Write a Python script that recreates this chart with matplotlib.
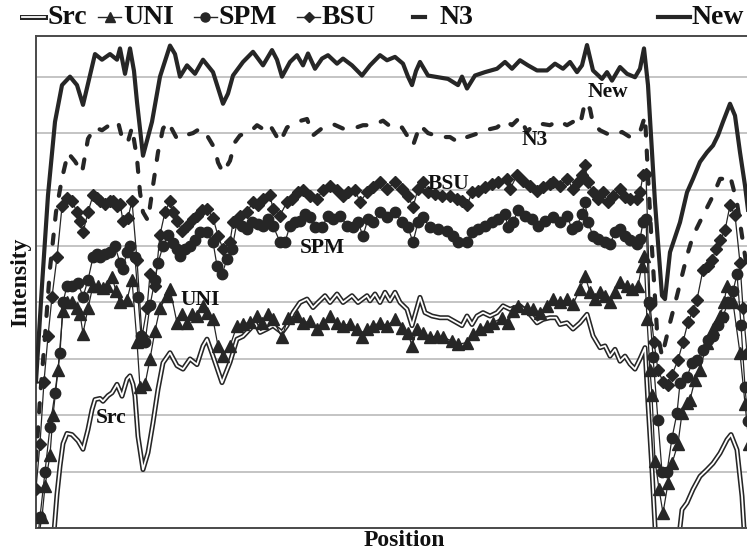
import matplotlib
matplotlib.use("Agg")
import matplotlib.pyplot as plt
from matplotlib.lines import Line2D

# ---------------- data (Position, Intensity) ----------------
series_names = ["Src", "UNI", "SPM", "BSU", "N3", "New"]

x_new = [0, 6, 12, 19, 26, 34, 41, 47, 53, 59, 66, 74, 81, 84, 89, 94, 98, 101, 107, 116, 124, 134, 139, 144,
         151, 159, 167, 177, 182, 187, 192, 197, 207, 217, 227, 236, 241, 246, 254, 261, 267, 272, 279, 286,
         292, 301, 307, 316, 326, 334, 344, 351, 359, 367, 372, 376, 380, 384, 392, 402, 412, 422, 426, 431,
         439, 449, 461, 469, 476, 484, 492, 501, 511, 519, 527, 534, 541, 546, 551, 557, 566, 571, 576, 584,
         591, 599, 604, 608, 612, 619, 626, 629, 634, 644, 651, 657, 664, 671, 677, 682, 687, 694, 699, 704,
         709, 713]
y_new = [2.6, 4.3, 5.9, 7.2, 7.85, 8.0, 7.85, 7.5, 7.95, 8.4, 8.3, 8.4, 8.3, 8.5, 8.05, 8.5, 8.1, 7.55, 6.6,
         7.2, 8.0, 8.55, 8.4, 8.0, 8.2, 8.05, 8.3, 8.08, 7.8, 7.52, 7.7, 8.02, 8.26, 8.44, 8.2, 8.47, 8.3, 8.0,
         8.26, 8.38, 8.2, 8.41, 8.14, 8.32, 8.38, 8.23, 8.32, 8.2, 8.02, 8.2, 8.38, 8.29, 8.35, 8.23, 8.0, 7.85,
         8.1, 8.26, 8.02, 7.99, 7.96, 7.85, 8.0, 7.79, 8.02, 8.08, 8.14, 8.26, 8.14, 8.29, 8.2, 8.11, 8.11, 8.23,
         8.14, 8.26, 8.08, 8.2, 8.56, 8.11, 7.96, 8.08, 7.93, 8.17, 8.05, 7.99, 8.14, 8.5, 7.85, 5.77, 4.12, 4.06,
         4.89, 5.42, 5.95, 6.19, 6.49, 6.66, 6.78, 6.96, 7.2, 7.52, 7.31, 6.66, 6.07, 5.5]

x_n3 = [0, 4, 9, 14, 20, 26, 32, 39, 46, 52, 59, 66, 74, 82, 87, 92, 96, 101, 104, 107, 112, 117, 122, 127,
        132, 141, 147, 157, 164, 171, 179, 182, 187, 194, 199, 204, 214, 221, 229, 234, 244, 251, 261, 271,
        277, 287, 297, 307, 317, 327, 337, 347, 357, 366, 371, 377, 384, 392, 404, 414, 422, 431, 441, 449,
        461, 469, 476, 484, 491, 497, 507, 514, 522, 531, 537, 544, 549, 554, 557, 564, 571, 577, 586, 594,
        604, 609, 612, 616, 621, 626, 634, 641, 651, 657, 667, 677, 684, 689, 694, 701, 706, 711]
y_n3 = [1.2, 2.3, 3.4, 4.6, 5.6, 6.2, 6.65, 6.5, 6.3, 6.9, 7.1, 7.05, 7.15, 7.2, 6.85, 6.85, 7.1, 6.55, 5.95,
        5.6, 5.45, 6.07, 6.66, 7.08, 7.2, 6.9, 6.95, 7.0, 7.08, 6.96, 6.72, 6.48, 6.3, 6.51, 6.84, 6.96, 7.02,
        7.14, 7.05, 7.14, 6.84, 7.1, 7.2, 7.25, 6.96, 7.1, 7.16, 7.08, 7.08, 7.14, 7.14, 7.22, 7.08, 7.1, 6.96,
        6.78, 7.14, 7.0, 6.93, 6.93, 6.84, 6.93, 6.99, 7.05, 7.1, 7.22, 7.14, 7.28, 7.02, 7.14, 7.16, 7.14,
        7.22, 7.14, 7.2, 7.14, 7.55, 7.43, 7.17, 7.05, 6.99, 6.96, 7.02, 6.93, 7.02, 7.3, 6.25, 4.95, 3.5,
        3.05, 3.64, 4.12, 4.83, 5.18, 5.54, 5.89, 6.19, 6.19, 6.25, 5.77, 5.18, 4.6]

x_bsu = [0, 4, 8, 12, 16, 21, 26, 31, 36, 41, 44, 47, 52, 57, 61, 64, 69, 74, 77, 81, 84, 87, 92, 96, 101,
         106, 111, 114, 119, 124, 129, 134, 137, 141, 146, 151, 157, 161, 166, 171, 177, 182, 187, 194, 197,
         204, 211, 217, 222, 227, 234, 237, 244, 251, 256, 262, 267, 274, 281, 287, 294, 301, 307, 312, 319,
         324, 331, 337, 344, 351, 359, 366, 372, 377, 382, 387, 392, 399, 406, 414, 421, 426, 431, 436, 442,
         449, 456, 462, 471, 474, 481, 487, 494, 501, 507, 514, 517, 524, 531, 537, 542, 546, 549, 552, 557,
         562, 567, 572, 577, 584, 589, 594, 601, 604, 607, 610, 614, 618, 622, 627, 632, 636, 642, 647, 652,
         657, 661, 667, 672, 676, 680, 684, 689, 694, 699, 704, 707, 711]
y_bsu = [0.7, 1.5, 2.6, 3.4, 4.1, 4.8, 5.7, 5.85, 5.8, 5.6, 5.45, 5.24, 5.6, 5.9, 5.85, 5.8, 5.75, 5.8, 5.8,
         5.7, 5.75, 5.45, 5.5, 5.8, 4.75, 3.4, 3.9, 4.5, 4.3, 5.2, 5.6, 5.8, 5.6, 5.45, 5.27, 5.35, 5.48, 5.54,
         5.63, 5.66, 5.5, 5.18, 4.95, 5.07, 5.42, 5.54, 5.6, 5.78, 5.72, 5.83, 5.9, 5.66, 5.54, 5.78, 5.83,
         5.95, 6.0, 5.89, 5.83, 6.0, 6.07, 6.0, 5.89, 5.95, 6.0, 5.78, 5.95, 6.04, 6.13, 6.01, 6.13, 6.01,
         5.89, 5.69, 6.01, 6.13, 5.95, 5.92, 5.89, 5.89, 5.83, 5.8, 5.72, 5.95, 5.98, 6.04, 6.1, 6.13, 6.19,
         6.01, 6.25, 6.16, 6.07, 5.98, 6.04, 6.1, 6.13, 6.07, 6.19, 6.01, 6.13, 6.25, 6.43, 6.13, 5.95, 5.83,
         5.95, 5.78, 5.89, 6.01, 5.86, 5.83, 5.83, 5.95, 6.25, 6.28, 3.95, 3.3, 2.8, 2.6, 2.54, 2.72, 2.98,
         3.3, 3.65, 3.85, 4.05, 4.58, 4.65, 4.75, 4.95, 5.1, 5.28, 5.72, 5.55, 4.7, 3.9, 3.1]

x_spm = [1, 4, 9, 14, 19, 24, 27, 31, 36, 42, 47, 52, 57, 61, 64, 69, 74, 79, 84, 87, 91, 94, 99, 102, 105,
         109, 114, 119, 122, 127, 132, 137, 141, 144, 149, 154, 159, 164, 171, 177, 181, 186, 191, 196, 201,
         206, 211, 216, 222, 227, 232, 237, 244, 249, 254, 259, 264, 269, 274, 279, 286, 292, 297, 304, 311,
         317, 322, 327, 332, 337, 344, 351, 359, 366, 372, 377, 382, 387, 394, 402, 411, 417, 422, 431, 436,
         442, 449, 456, 462, 469, 472, 477, 482, 489, 496, 502, 509, 517, 524, 531, 536, 541, 546, 549, 552,
         557, 562, 569, 574, 579, 584, 589, 594, 601, 604, 607, 610, 613, 617, 622, 626, 631, 636, 641, 644,
         651, 656, 661, 667, 672, 677, 682, 687, 692, 697, 701, 705, 709, 712]
y_spm = [-0.3, 0.2, 1.0, 1.8, 2.4, 3.1, 4.0, 4.3, 4.3, 4.35, 4.1, 4.4, 4.8, 4.85, 4.8, 4.85, 4.9, 5.0, 4.7,
         4.6, 4.9, 5.0, 4.8, 4.1, 3.4, 3.3, 3.95, 4.4, 4.7, 5.0, 5.2, 5.05, 4.95, 4.83, 4.95, 5.0, 5.1, 5.24,
         5.24, 5.07, 4.65, 4.5, 4.77, 4.95, 5.42, 5.36, 5.3, 5.42, 5.39, 5.36, 5.48, 5.36, 5.07, 5.07, 5.36,
         5.42, 5.45, 5.57, 5.51, 5.33, 5.33, 5.54, 5.48, 5.54, 5.36, 5.33, 5.42, 5.18, 5.48, 5.42, 5.6, 5.51,
         5.6, 5.42, 5.33, 5.07, 5.42, 5.51, 5.33, 5.3, 5.27, 5.18, 5.07, 5.07, 5.24, 5.3, 5.36, 5.42, 5.48,
         5.57, 5.33, 5.42, 5.63, 5.54, 5.48, 5.36, 5.45, 5.51, 5.42, 5.54, 5.3, 5.36, 5.57, 5.78, 5.42, 5.18,
         5.12, 5.07, 5.04, 5.24, 5.3, 5.18, 5.1, 5.04, 5.12, 5.42, 5.48, 4.0, 3.04, 1.92, 1.0, 1.0, 1.6, 2.04,
         2.57, 2.68, 2.93, 2.98, 3.16, 3.34, 3.4, 3.6, 3.75, 4.0, 4.2, 4.5, 3.6, 2.5, 1.9]

x_uni = [2, 6, 9, 14, 17, 22, 27, 31, 36, 41, 44, 47, 52, 57, 62, 67, 71, 76, 80, 84, 91, 96, 101, 104, 109,
         114, 119, 124, 131, 134, 141, 146, 151, 156, 161, 167, 171, 177, 182, 187, 194, 201, 207, 214, 221,
         226, 232, 237, 246, 252, 261, 267, 274, 281, 287, 294, 301, 307, 314, 321, 326, 331, 337, 344, 351,
         359, 366, 372, 376, 381, 387, 394, 401, 407, 416, 422, 431, 437, 444, 451, 457, 466, 472, 477, 482,
         491, 497, 504, 511, 517, 524, 531, 537, 544, 549, 554, 559, 564, 569, 574, 579, 584, 591, 596, 602,
         606, 608, 611, 614, 616, 619, 623, 627, 632, 636, 642, 646, 651, 654, 659, 664, 671, 677, 684, 688,
         691, 697, 704, 709, 713]
y_uni = [-0.2, 0.2, 0.75, 1.3, 2.0, 2.8, 3.85, 4.0, 4.0, 3.9, 3.8, 3.45, 3.9, 4.3, 4.3, 4.25, 4.3, 4.45, 4.2,
         4.0, 4.05, 4.4, 3.3, 2.5, 2.55, 3.0, 3.5, 3.9, 4.12, 4.24, 3.64, 3.8, 3.64, 3.8, 3.76, 3.94, 3.82,
         3.7, 3.23, 3.05, 3.23, 3.59, 3.62, 3.65, 3.76, 3.64, 3.79, 3.7, 3.38, 3.73, 3.76, 3.64, 3.67, 3.53,
         3.64, 3.76, 3.64, 3.59, 3.62, 3.53, 3.38, 3.53, 3.59, 3.64, 3.59, 3.7, 3.55, 3.46, 3.23, 3.53, 3.46,
         3.38, 3.41, 3.38, 3.32, 3.26, 3.29, 3.44, 3.53, 3.59, 3.64, 3.73, 3.64, 3.85, 3.94, 3.91, 3.88, 3.82,
         3.94, 4.06, 4.0, 4.06, 3.97, 4.24, 4.47, 4.18, 4.06, 4.18, 4.12, 4.0, 4.18, 4.36, 4.3, 4.24, 4.3,
         4.65, 4.83, 3.7, 2.8, 2.36, 1.2, 0.7, 0.27, 0.8, 1.15, 1.5, 2.04, 2.22, 2.28, 2.63, 2.81, 3.29, 3.53,
         3.76, 4.0, 4.3, 4.0, 3.1, 2.2, 1.5]

x_src = [17, 21, 24, 27, 31, 36, 42, 47, 52, 56, 59, 64, 67, 72, 76, 81, 86, 91, 94, 97, 99, 102, 107, 112,
         117, 122, 127, 134, 141, 147, 154, 161, 167, 171, 177, 186, 194, 201, 207, 214, 219, 224, 231, 237,
         246, 251, 257, 264, 271, 277, 282, 289, 294, 301, 307, 316, 322, 331, 334, 339, 344, 349, 354, 359,
         364, 371, 376, 384, 389, 396, 404, 412, 421, 426, 431, 436, 441, 447, 454, 461, 467, 474, 484, 494,
         501, 507, 514, 520, 524, 531, 537, 544, 551, 557, 564, 569, 574, 579, 584, 589, 594, 599, 604, 609,
         612, 616, 620, 642, 646, 651, 657, 664, 671, 677, 684, 691, 695, 701, 706, 709]
y_src = [-0.3, 0.6, 1.1, 1.5, 1.68, 1.66, 1.55, 1.4, 1.75, 2.1, 2.28, 2.3, 2.25, 2.35, 2.4, 2.55, 2.34, 2.64,
         2.7, 2.55, 2.34, 1.63, 1.04, 1.34, 1.87, 2.46, 2.93, 3.11, 2.88, 2.82, 3.0, 2.9, 3.23, 3.35, 3.05,
         2.58, 2.94, 3.35, 3.4, 3.53, 3.64, 3.47, 3.53, 3.59, 3.47, 3.59, 3.82, 4.0, 4.06, 3.91, 4.0, 4.12,
         4.0, 4.15, 4.0, 4.12, 4.0, 4.12, 4.03, 4.15, 4.0, 4.18, 4.03, 4.18, 4.0, 3.88, 3.59, 4.09, 3.82, 3.76,
         3.73, 3.73, 3.64, 3.59, 3.76, 3.61, 3.76, 3.82, 3.76, 3.82, 3.94, 3.88, 3.94, 3.79, 3.64, 3.7, 3.73,
         3.73, 3.61, 3.64, 3.53, 3.64, 3.79, 3.41, 3.2, 3.23, 3.05, 3.17, 2.96, 3.05, 2.91, 2.82, 3.0, 3.2,
         2.22, 1.04, -0.3, -0.3, 0.33, 0.45, 0.69, 0.92, 1.04, 1.15, 1.33, 1.57, 1.66, 1.39, 0.57, -0.3]

label_text = {"New": (552, 7.73), "N3": (486, 6.88), "BSU": (392, 6.1), "SPM": (264, 4.96),
              "UNI": (144, 4.05), "Src": (60, 1.95)}

# ---------------- figure ----------------
W, H = 747, 556
fig = plt.figure(figsize=(W / 100, H / 100), dpi=100)
ax = fig.add_axes([36 / W, 27.7 / H, 711 / W, 492.3 / H])
ax.set_xlim(0, 711)
ax.set_ylim(0, 8.72)

dark = "#262626"
serif = ["Liberation Serif", "DejaVu Serif"]
msz = {"^": 8, "o": 7.5, "D": 6.5}

for g in range(1, 9):
    ax.axhline(g, color="#b4b4b4", lw=1.1, zorder=0)

ax.set_xticks([])
ax.set_yticks([])
for side in ["left", "bottom", "top"]:
    ax.spines[side].set_color("#4a4a4a")
    ax.spines[side].set_linewidth(1.4)
ax.spines["right"].set_visible(False)

# Src: double line
ax.plot(x_src, y_src, color=dark, lw=3.6, solid_joinstyle="round", zorder=2)
ax.plot(x_src, y_src, color="white", lw=1.3, solid_joinstyle="round", zorder=2.1)
# UNI
ax.plot(x_uni, y_uni, color=dark, lw=0.9, marker="^", ms=msz["^"], mec=dark, mfc=dark, zorder=3)
# SPM
ax.plot(x_spm, y_spm, color=dark, lw=0.9, marker="o", ms=msz["o"], mec=dark, mfc=dark, zorder=3)
# BSU
ax.plot(x_bsu, y_bsu, color=dark, lw=0.9, marker="D", ms=msz["D"], mec=dark, mfc=dark, zorder=3)
# N3
ax.plot(x_n3, y_n3, color=dark, lw=3.0, linestyle=(0, (2.2, 3.6)), dash_capstyle="round", zorder=4)
# New
ax.plot(x_new, y_new, color=dark, lw=3.0, solid_joinstyle="round", zorder=5)

for name, (lx, ly) in label_text.items():
    ax.text(lx, ly, name, fontsize=15.5, fontweight="bold", family=serif, color="#111111",
            ha="left", va="center", zorder=6)

ax.text(-0.022, 0.5, "Intensity", transform=ax.transAxes, rotation=90, fontsize=17,
        fontweight="bold", family=serif, ha="center", va="center", color="#111111")
fig.text(404 / W, 1 - 541 / H, "Position", fontsize=17, fontweight="bold", family=serif,
         ha="center", va="center", color="#111111")

# ---------------- legend (manual) ----------------
def fx(px):
    return px / W

ly = 1 - 17 / H
entries = [
    ("Src", 22, 45, 47, None),
    ("UNI", 98, 121, 123, "^"),
    ("SPM", 194, 217, 219, "o"),
    ("BSU", 297, 320, 322, "D"),
    ("N3", 413, 425, 440, None),
    ("New", 658, 690, 692, None),
]
for name, h0, h1, tx, mk in entries:
    if name == "Src":
        fig.add_artist(Line2D([fx(h0), fx(h1)], [ly, ly], color=dark, lw=3.6, transform=fig.transFigure))
        fig.add_artist(Line2D([fx(h0), fx(h1)], [ly, ly], color="white", lw=1.3, transform=fig.transFigure))
    elif name in ("N3", "New"):
        fig.add_artist(Line2D([fx(h0), fx(h1)], [ly, ly], color=dark, lw=3.0, transform=fig.transFigure))
    else:
        fig.add_artist(Line2D([fx(h0), fx(h1)], [ly, ly], color=dark, lw=1.0, transform=fig.transFigure))
        fig.add_artist(Line2D([fx((h0 + h1) / 2)], [ly], color=dark, marker=mk,
                              ms=msz[mk] - 1, transform=fig.transFigure))
    fig.text(fx(tx), ly, name, fontsize=20, fontweight="bold", family=serif,
             ha="left", va="center", color="#111111")

fig.savefig("out.png", dpi=100)
